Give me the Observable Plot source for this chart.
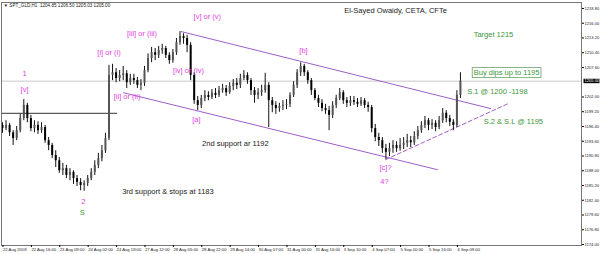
<!DOCTYPE html>
<html><head><meta charset="utf-8">
<script src="https://cdn.jsdelivr.net/npm/d3@7"></script>
<script src="https://cdn.jsdelivr.net/npm/@observablehq/plot@0.6"></script>
<style>body{margin:0;background:#fff;} svg{display:block;}</style>
</head><body><div id="chart"></div>
<script>
// ---- data (2-hour candles) ----
const cl = [1196.0,1196.6,1195.2,1194.1,1195.6,1197.9,1200.4,1197.9,1196.0,1196.6,
1195.6,1196.2,1193.7,1192.8,1190.9,1189.9,1188.0,1188.4,1187.1,1187.7,
1186.5,1185.8,1185.2,1185.6,1186.5,1187.7,1189.0,1190.3,1191.8,1194.1,
1206.1,1206.6,1205.5,1206.1,1206.4,1204.7,1205.5,1205.1,1204.2,1204.6,
1207.0,1209.3,1210.4,1209.9,1210.8,1211.2,1209.9,1208.9,1210.4,1212.3,
1213.5,1213.1,1211.8,1206.1,1201.3,1200.4,1201.7,1202.3,1201.9,1202.7,
1202.3,1203.2,1203.6,1202.8,1204.0,1204.6,1204.2,1205.5,1206.1,1205.1,
1203.2,1202.3,1202.8,1203.2,1204.2,1201.3,1200.4,1199.8,1200.2,1200.4,
1200.6,1202.3,1204.2,1206.6,1207.8,1206.6,1205.1,1203.2,1201.7,1200.8,
1199.8,1199.4,1198.5,1200.4,1201.7,1202.8,1201.3,1200.8,1201.3,1201.0,
1200.6,1201.3,1200.4,1200.0,1196.0,1194.3,1193.7,1192.2,1191.5,1192.2,
1192.8,1192.2,1192.8,1193.2,1193.7,1193.3,1194.5,1195.6,1196.6,1197.5,
1196.6,1197.0,1196.2,1197.5,1198.9,1197.9,1197.2,1196.6,1202.3,1205.0];
const hi = [1197.1,1197.5,1197.0,1195.6,1196.4,1198.7,1201.5,1200.8,1198.5,1197.5,
1197.3,1197.1,1196.6,1194.3,1193.2,1191.8,1190.5,1189.4,1189.0,1188.4,
1188.0,1187.1,1186.5,1186.1,1187.1,1188.4,1189.9,1191.3,1192.8,1195.1,
1208.0,1208.2,1207.4,1207.0,1207.8,1207.0,1206.3,1206.3,1205.7,1205.3,
1207.8,1210.2,1211.4,1211.2,1211.6,1212.0,1211.6,1210.4,1211.0,1213.1,
1214.4,1214.0,1213.7,1212.3,1206.6,1202.1,1202.3,1203.2,1203.0,1203.4,
1203.6,1204.0,1204.4,1204.2,1204.7,1205.3,1205.5,1206.3,1207.0,1206.6,
1205.5,1203.8,1203.6,1204.2,1206.5,1204.7,1201.9,1201.1,1200.8,1201.3,
1201.5,1202.8,1204.9,1207.2,1208.5,1208.2,1207.0,1205.5,1203.6,1202.3,
1201.5,1200.6,1200.2,1201.1,1202.3,1203.6,1203.2,1201.9,1202.1,1202.1,
1201.7,1201.9,1201.7,1201.0,1200.4,1196.8,1195.1,1194.3,1193.0,1193.2,
1193.7,1193.5,1194.1,1194.3,1194.9,1194.5,1195.4,1196.4,1197.3,1198.3,
1197.9,1197.7,1197.5,1198.3,1199.8,1199.4,1198.5,1197.7,1203.2,1206.6];
const lo = [1195.1,1195.6,1194.5,1192.8,1193.7,1195.2,1197.5,1197.1,1195.4,1195.2,
1194.9,1195.1,1193.2,1191.8,1190.3,1188.6,1187.5,1187.1,1186.5,1186.1,
1185.4,1185.0,1184.2,1184.1,1185.0,1186.1,1187.1,1188.4,1189.7,1191.3,
1193.7,1205.1,1204.7,1204.9,1205.1,1203.6,1204.2,1204.4,1203.6,1203.2,
1204.0,1206.6,1208.5,1208.9,1209.3,1210.1,1209.3,1208.2,1208.4,1209.9,
1211.8,1212.0,1210.4,1205.1,1200.6,1199.4,1199.8,1201.1,1201.3,1201.5,
1201.7,1201.9,1202.7,1202.1,1202.5,1203.2,1203.4,1203.6,1205.1,1204.4,
1202.3,1200.8,1201.5,1202.1,1202.7,1196.2,1199.0,1198.7,1199.1,1199.4,
1199.6,1200.0,1201.9,1203.6,1205.9,1205.9,1204.4,1202.3,1201.3,1200.0,
1199.2,1198.7,1195.6,1197.9,1199.8,1201.3,1200.6,1200.0,1200.2,1200.4,
1200.0,1200.2,1199.8,1199.1,1195.2,1193.5,1192.6,1191.3,1190.1,1190.7,
1191.3,1191.5,1191.7,1192.0,1192.4,1192.4,1192.8,1193.9,1195.1,1196.0,
1195.6,1195.8,1195.4,1195.8,1197.0,1197.1,1196.4,1195.6,1196.2,1201.7];
const firstOpen = 1196.6;

const xTickIdx = [0,8,16,24,32,40,48,56,64,72,80,88,96,104,112,120,128];
const xLabels = ["22 Aug 2018","22 Aug 16:00","23 Aug 09:00","24 Aug 02:00","24 Aug 18:00",
  "27 Aug 12:00","28 Aug 05:00","28 Aug 22:00","29 Aug 14:00","30 Aug 07:00","31 Aug 00:00",
  "31 Aug 16:00","3 Sep 10:00","4 Sep 07:00","5 Sep 00:00","5 Sep 16:00","6 Sep 09:00"];
const yTicks = [1174.00,1176.80,1179.60,1182.40,1185.20,1188.00,1190.80,1193.60,1196.40,
  1199.20,1202.00,1207.60,1210.40,1213.20,1216.00,1218.80];
const lastPrice = 1205.00;
const header = "▼ SPT_GLD,H1  1204.85 1206.50 1205.03 1205.00";

const waveLabels = [
  {t:"1", i:6.2, p:1206.5}, {t:"[v]", i:6.2, p:1203.4},
  {t:"2", i:22.8, p:1182.2},
  {t:"[i] or (i)", i:30.0, p:1210.4}, {t:"[ii] or (ii)", i:35.1, p:1202.1},
  {t:"[iii] or (iii)", i:39.3, p:1214.0}, {t:"[iv] or (iv)", i:52.4, p:1207.0},
  {t:"[v] or (v)", i:57.7, p:1217.3}, {t:"[a]", i:54.6, p:1197.7},
  {t:"[b]", i:84.8, p:1210.8}, {t:"[c]?", i:107.9, p:1188.6}, {t:"4?", i:107.6, p:1185.9}
];
const greenLabels = [
  {t:"Target 1215", i:138.3, p:1213.9},
  {t:"Buy dips up to 1195", i:142.0, p:1206.6},
  {t:"S.1 @ 1200 -1198", i:139.4, p:1203.0},
  {t:"S.2 & S.L @ 1195", i:143.9, p:1197.3},
  {t:"S", i:22.5, p:1180.1}
];
const blackLabels = [
  {t:"El-Sayed Owaidy, CETA, CFTe", i:110.7, p:1218.4},
  {t:"2nd support ar 1192", i:65.6, p:1193.2},
  {t:"3rd support & stops at 1183", i:46.6, p:1184.0}
];
const channelUpper = [{i:50.4, p:1214.4}, {i:137.5, p:1199.8}];
const channelLower = [{i:34.1, p:1202.8}, {i:122.5, p:1188.2}];
const supportLine = [{i:107.9, p:1190.1}, {i:142.3, p:1200.7}];
const levelLine = [{p:1198.9, i1:-0.28, i2:32.4}];

// ---- build ----
const candles = cl.map((c, i) => ({i, o: i ? cl[i-1] : firstOpen, h: hi[i], l: lo[i], c}));
const purple = "#9f5fc8", magenta = "#e23ee2", green = "#3a963a";
const font = "Liberation Sans, Arial, sans-serif";

const chart = Plot.plot({
  width: 600, height: 254,
  marginLeft: 1, marginRight: 19, marginTop: 2, marginBottom: 9,
  style: {fontFamily: font, background: "#fff"},
  x: {domain: [-0.28, 163.1]},
  y: {domain: [1173.81, 1219.93]},
  marks: [
    Plot.ruleY([lastPrice], {stroke: "#c8c8c8", strokeWidth: 1}),
    Plot.ruleY(levelLine, {y: "p", x1: "i1", x2: "i2", stroke: "#333", strokeWidth: 1}),
    Plot.line(channelUpper, {x: "i", y: "p", stroke: purple, strokeWidth: 1}),
    Plot.line(channelLower, {x: "i", y: "p", stroke: purple, strokeWidth: 1}),
    Plot.line(supportLine, {x: "i", y: "p", stroke: purple, strokeWidth: 1, strokeDasharray: "4,2.5"}),
    Plot.ruleX(candles, {x: "i", y1: "l", y2: "h", stroke: "#111", strokeWidth: 1}),
    Plot.ruleX(candles, {x: "i", y1: "o", y2: "c", stroke: d => d.c >= d.o ? "#555" : "#000", strokeWidth: 2}),
    Plot.text(waveLabels, {x: "i", y: "p", text: "t", fill: magenta, fontSize: 7.5}),
    Plot.text(greenLabels, {x: "i", y: "p", text: "t", fill: green, fontSize: 7.5}),
    Plot.text(blackLabels, {x: "i", y: "p", text: "t", fill: "#222", fontSize: 7.5}),
    Plot.text([header], {text: d => d, frameAnchor: "top-left", textAnchor: "start", dx: 2, dy: 1.5, fontSize: 4.6, fill: "#222"}),
    Plot.frame({stroke: "#777"}),
    Plot.axisX({ticks: xTickIdx, tickFormat: d => xLabels[xTickIdx.indexOf(d)], tickSize: 2, tickPadding: 1,
      fontSize: 4.2, textAnchor: "start", dx: 0.5, fill: "#222"}),
    Plot.axisY({anchor: "right", ticks: yTicks, tickFormat: d => d.toFixed(2), tickSize: 2, tickPadding: 1,
      fontSize: 4.1, fill: "#222"}),
    Plot.text([lastPrice], {y: d => d, text: d => d.toFixed(2), frameAnchor: "right", textAnchor: "start",
      dx: 3, fontSize: 4.1, fill: "#fff"})
  ]
});
document.getElementById("chart").append(chart);

// boxes behind/around certain texts
const NS = "http://www.w3.org/2000/svg";
chart.querySelectorAll("text").forEach(t => {
  const s = t.textContent;
  if (s === "Buy dips up to 1195" || s === lastPrice.toFixed(2)) {
    const b = t.getBBox();
    const r = document.createElementNS(NS, "rect");
    const tr = t.getAttribute("transform");
    if (tr) r.setAttribute("transform", tr);
    if (s === "Buy dips up to 1195") {
      r.setAttribute("x", b.x - 1.5); r.setAttribute("y", b.y - 0.5);
      r.setAttribute("width", b.width + 3); r.setAttribute("height", b.height + 1);
      r.setAttribute("fill", "none"); r.setAttribute("stroke", "#6a9f6a"); r.setAttribute("stroke-width", 0.8);
      t.parentNode.insertBefore(r, t.nextSibling);
    } else {
      r.setAttribute("x", b.x - 1); r.setAttribute("y", b.y + 0.3);
      r.setAttribute("width", Math.min(b.width + 2, 598 - 582)); r.setAttribute("height", b.height - 0.6);
      r.setAttribute("fill", "#000");
      t.parentNode.insertBefore(r, t);
    }
  }
});
</script>
</body></html>
